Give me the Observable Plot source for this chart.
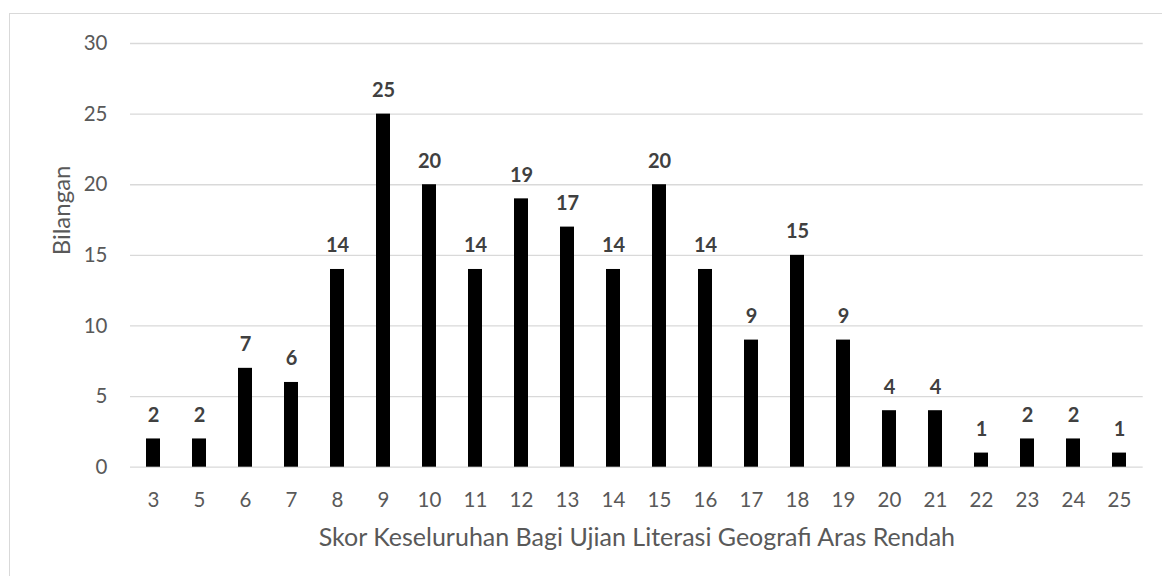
<!DOCTYPE html>
<html>
<head>
<meta charset="utf-8">
<script src="https://cdn.jsdelivr.net/npm/d3@7"></script>
<script src="https://cdn.jsdelivr.net/npm/@observablehq/plot@0.6"></script>
<style>
  html, body { margin: 0; padding: 0; background: #fff; overflow: hidden; }
  #wrap { position: relative; width: 1162px; height: 576px; }
  #border { position: absolute; left: 9px; top: 13px; width: 1300px; height: 700px; border: 1.5px solid #d9d9d9; box-sizing: border-box; }
  #chart { position: absolute; left: 0; top: 0; }
</style>
</head>
<body>
<div id="wrap"><div id="border"></div><div id="chart"></div></div>
<script>
const scores = ["3","5","6","7","8","9","10","11","12","13","14","15","16","17","18","19","20","21","22","23","24","25"];
const counts = [2,2,7,6,14,25,20,14,19,17,14,20,14,9,15,9,4,4,1,2,2,1];
const yTicks = [0,5,10,15,20,25,30];
const xTitle = "Skor Keseluruhan Bagi Ujian Literasi Geografi Aras Rendah";
const yTitle = "Bilangan";

const data = scores.map((s, i) => ({score: s, count: counts[i]}));
const font = "Lato, 'Open Sans', sans-serif";

const chart = Plot.plot({
  width: 1162,
  height: 576,
  marginTop: 43,
  marginBottom: 109.3,
  marginLeft: 130,
  marginRight: 19.3,
  style: {fontFamily: font, color: "#595959", background: "transparent", overflow: "visible"},
  x: {type: "band", domain: scores, paddingInner: 0.685, paddingOuter: 0.3425, align: 0.5, label: null},
  y: {domain: [0, 30], label: null},
  marks: [
    Plot.gridY(yTicks, {stroke: "#d9d9d9", strokeOpacity: 1, strokeWidth: 1.3}),
    Plot.barY(data, {x: "score", y: "count", fill: "#000000"}),
    Plot.text(data, {x: "score", y: "count", text: d => String(d.count), fontSize: 20, fontWeight: "bold", fill: "#404040", lineAnchor: "middle", dy: -23.5}),
    Plot.axisY(yTicks, {tickSize: 0, tickPadding: 23, fontSize: 20.5, label: null, fill: "#595959"}),
    Plot.axisX({tickSize: 0, tickPadding: 25, fontSize: 20.5, label: null, fill: "#595959"}),
    Plot.text([xTitle], {frameAnchor: "bottom", lineAnchor: "middle", dy: 70.5, fontSize: 25, fill: "#595959"}),
    Plot.text([yTitle], {frameAnchor: "left", lineAnchor: "middle", rotate: -90, dx: -68, fontSize: 24, fill: "#595959"})
  ]
});
document.getElementById("chart").appendChild(chart);
</script>
</body>
</html>
